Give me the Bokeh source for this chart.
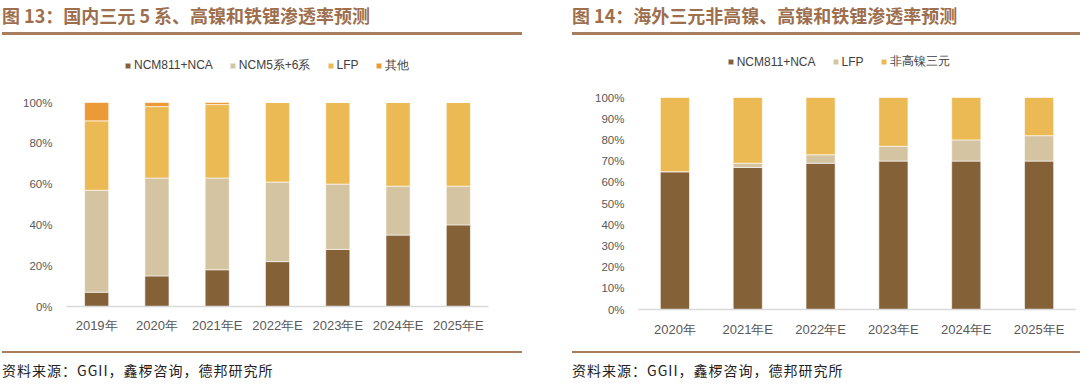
from bokeh.plotting import figure
from bokeh.models import (ColumnDataSource, Range1d, FactorRange, Legend, LegendItem, Div,
                          NumeralTickFormatter, FixedTicker)
from bokeh.layouts import row, column
from bokeh.embed import file_html
from bokeh.resources import INLINE

# ---------------- data ----------------
cats_l = ["2019年", "2020年", "2021年E", "2022年E", "2023年E", "2024年E", "2025年E"]
ncm811_l = [7, 15, 18, 22, 28, 35, 40]
ncm56_l = [50, 48, 45, 39, 32, 24, 19]
lfp_l = [34, 35, 36, 39, 40, 41, 41]
other_l = [9, 2, 1, 0, 0, 0, 0]
names_l = ["NCM811+NCA", "NCM5系+6系", "LFP", "其他"]

cats_r = ["2020年", "2021年E", "2022年E", "2023年E", "2024年E", "2025年E"]
ncm811_r = [65, 67, 69, 70, 70, 70]
lfp_r = [0, 2, 4, 7, 10, 12]
nonhigh_r = [35, 31, 27, 23, 20, 18]
names_r = ["NCM811+NCA", "LFP", "非高镍三元"]

ticks_l = [0, 0.2, 0.4, 0.6, 0.8, 1.0]
ticks_r = [0, 0.1, 0.2, 0.3, 0.4, 0.5, 0.6, 0.7, 0.8, 0.9, 1.0]

title_l = "图 13：国内三元 5 系、高镍和铁锂渗透率预测"
title_r = "图 14：海外三元非高镍、高镍和铁锂渗透率预测"
source_txt = "资料来源：GGII，鑫椤咨询，德邦研究所"

BROWN = "#846137"
BEIGE = "#D4C4A2"
YELLOW = "#ECBA54"
ORANGE = "#EC9A37"
TITLE_C = "#9E6F4E"
RULE_C = "#A87E5E"
TICK_C = "#595959"
FONT = "Liberation Sans"

COL_W = 540
FIG_H = 310


def make_fig(cats, series, names, colors, ticks, y_end, bl, br, bt, bb,
             leg_x, leg_y, xstand, ystand):
    src = ColumnDataSource(dict(cats=cats, **{f"s{i}": [v / 100 for v in s] for i, s in enumerate(series)}))
    p = figure(x_range=FactorRange(*cats), y_range=Range1d(0, y_end), width=COL_W, height=FIG_H,
               output_backend="svg", toolbar_location=None,
               min_border_left=bl, min_border_right=br, min_border_top=bt, min_border_bottom=bb)
    keys = [f"s{i}" for i in range(len(series))]
    rs = p.vbar_stack(keys, x="cats", width=0.4, color=colors, line_color="white",
                      line_width=0.6, source=src)
    p.outline_line_color = None
    p.xgrid.grid_line_color = None
    p.ygrid.grid_line_color = None
    p.background_fill_color = "white"
    p.border_fill_color = "white"

    p.yaxis.ticker = FixedTicker(ticks=ticks)
    p.yaxis.formatter = NumeralTickFormatter(format="0%")
    p.yaxis.axis_line_color = None
    p.yaxis.major_tick_line_color = None
    p.yaxis.minor_tick_line_color = None
    p.yaxis.major_label_text_color = TICK_C
    p.yaxis.major_label_text_font = FONT
    p.yaxis.major_label_text_font_size = "11.5px"
    p.yaxis.major_label_standoff = ystand

    p.xaxis.axis_line_color = "#D9D9D9"
    p.xaxis.axis_line_width = 1.5
    p.xaxis.major_tick_line_color = None
    p.xaxis.minor_tick_line_color = None
    p.xaxis.major_label_text_color = TICK_C
    p.xaxis.major_label_text_font = FONT
    p.xaxis.major_label_text_font_size = "13px"
    p.xaxis.major_label_standoff = xstand

    legend = Legend(items=[LegendItem(label=n, renderers=[r]) for n, r in zip(names, rs)],
                    orientation="horizontal", location=(leg_x, leg_y),
                    padding=6, margin=0, spacing=16, glyph_width=7, glyph_height=7,
                    label_height=7, label_standoff=3, border_line_color=None,
                    background_fill_alpha=0, label_text_font=FONT,
                    label_text_font_size="12px", label_text_color="#404040")
    p.add_layout(legend)
    return p


# left: frame x 66..488, y 50..306 (0% at 306, 100% at 102)
fig_l = make_fig(cats_l, [ncm811_l, ncm56_l, lfp_l, other_l], names_l,
                 [BROWN, BEIGE, YELLOW, ORANGE], ticks_l, 256 / 204, 66, 52, 14, 40,
                 58, 232.5, 5, 8)
# right: frame x 638..1075, y 45..309 (0% at 309, 100% at 97)
fig_r = make_fig(cats_r, [ncm811_r, lfp_r, nonhigh_r], names_r,
                 [BROWN, BEIGE, YELLOW], ticks_r, 264 / 212, 98, 5, 9, 37,
                 88.7, 238.8, 6, 8)


def title_div(text, left, w):
    html = (f'<div style="margin-left:{left}px;width:{w}px;height:27px;padding-top:5px;'
            f'border-bottom:3px solid {RULE_C};'
            f'font-family:\'Noto Sans CJK SC\';font-weight:bold;font-size:18px;line-height:20px;'
            f'color:{TITLE_C};white-space:nowrap;box-sizing:content-box;">{text}</div>')
    return Div(text=html, width=COL_W, height=36, margin=(0, 0, 0, 0))


def foot_div(text, left, w):
    html = (f'<div style="margin-left:{left}px;width:{w}px;margin-top:5px;border-top:2px solid {RULE_C};'
            f'padding-top:9px;font-family:\'Noto Sans CJK SC\';font-size:14px;line-height:16px;'
            f'letter-spacing:1px;color:#222222;white-space:nowrap;">{text}</div>')
    return Div(text=html, width=COL_W, height=38, margin=(0, 0, 0, 0))


left_col = column(title_div(title_l, 2, 520), fig_l, foot_div(source_txt, 2, 520), spacing=0)
right_col = column(title_div(title_r, 32, 508), fig_r, foot_div(source_txt, 32, 508), spacing=0)
page = row(left_col, right_col, spacing=0)

open("out.html", "w").write(file_html(page, INLINE))
